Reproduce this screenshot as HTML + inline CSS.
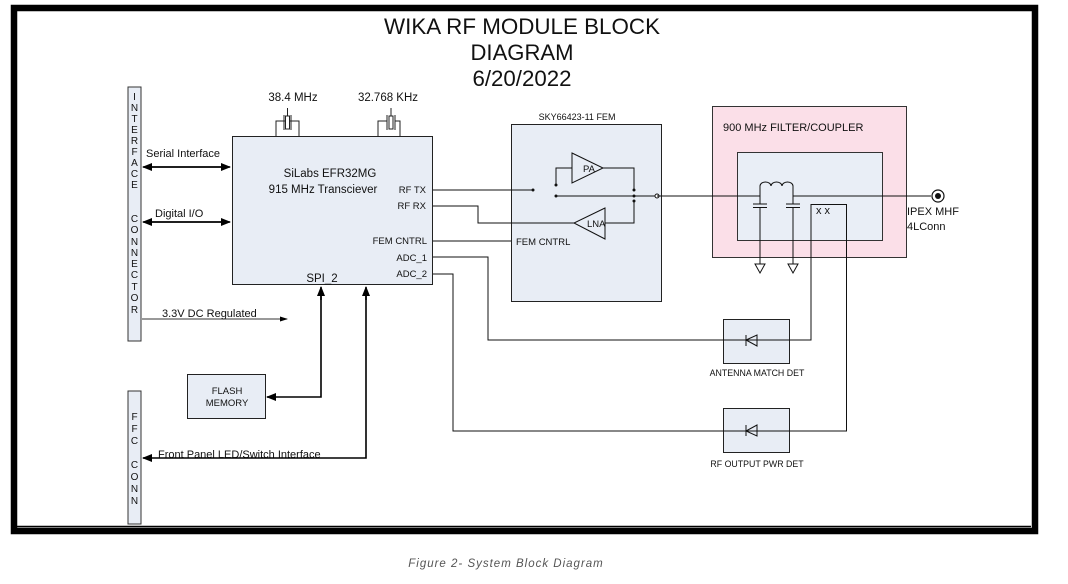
<!DOCTYPE html>
<html><head><meta charset="utf-8"><style>
html,body{margin:0;padding:0;background:#fff;}
svg{display:block;}
text{font-family:"Liberation Sans",sans-serif;fill:#111;}
</style></head><body>
<svg width="1068" height="584" viewBox="0 0 1068 584" xmlns="http://www.w3.org/2000/svg">
<defs>
<marker id="ah" markerWidth="10" markerHeight="10" refX="9" refY="5" orient="auto" markerUnits="userSpaceOnUse"><path d="M0,1 L10,5 L0,9 Z" fill="#000"/></marker>
<marker id="ahs" markerWidth="8" markerHeight="8" refX="7" refY="4" orient="auto" markerUnits="userSpaceOnUse"><path d="M0,1.5 L8,4 L0,6.5 Z" fill="#000"/></marker>
</defs>
<!-- frame -->
<rect x="14" y="8" width="1021" height="523" fill="none" stroke="#000" stroke-width="6.5"/>
<line x1="16" y1="526.5" x2="1031" y2="526.5" stroke="#000" stroke-width="1.5"/>

<!-- title -->
<g font-size="22" text-anchor="middle">
<text x="522" y="34" textLength="276" lengthAdjust="spacingAndGlyphs">WIKA RF MODULE BLOCK</text>
<text x="522" y="60" textLength="103" lengthAdjust="spacingAndGlyphs">DIAGRAM</text>
<text x="522" y="86" textLength="99" lengthAdjust="spacingAndGlyphs">6/20/2022</text>
</g>

<!-- interface connector -->
<rect x="128" y="87" width="13" height="254" fill="#e8edf5" stroke="#333" stroke-width="1"/>
<g font-size="10" text-anchor="middle">
<text x="134.5" y="100">I</text><text x="134.5" y="111">N</text><text x="134.5" y="122">T</text><text x="134.5" y="133">E</text><text x="134.5" y="144">R</text><text x="134.5" y="155">F</text><text x="134.5" y="166">A</text><text x="134.5" y="177">C</text><text x="134.5" y="188">E</text>
<text x="134.5" y="222">C</text><text x="134.5" y="233">O</text><text x="134.5" y="245">N</text><text x="134.5" y="256">N</text><text x="134.5" y="267">E</text><text x="134.5" y="278">C</text><text x="134.5" y="290">T</text><text x="134.5" y="301">O</text><text x="134.5" y="313">R</text>
</g>
<!-- FFC conn -->
<rect x="128" y="391" width="13" height="133" fill="#e8edf5" stroke="#333" stroke-width="1"/>
<g font-size="10" text-anchor="middle">
<text x="134.5" y="420">F</text><text x="134.5" y="432">F</text><text x="134.5" y="444">C</text>
<text x="134.5" y="468">C</text><text x="134.5" y="480">O</text><text x="134.5" y="492">N</text><text x="134.5" y="504">N</text>
</g>

<!-- chip -->
<rect x="232.5" y="136.5" width="200" height="148" fill="#e8edf5" stroke="#222" stroke-width="1"/>
<g font-size="11.5" text-anchor="middle">
<text x="330" y="177">SiLabs EFR32MG</text>
<text x="323" y="193">915 MHz Transciever</text>
</g>
<g font-size="9.5" text-anchor="end">
<text x="426" y="193">RF TX</text>
<text x="426" y="209">RF RX</text>
<text x="427" y="244">FEM CNTRL</text>
<text x="427" y="261">ADC_1</text>
<text x="427" y="277">ADC_2</text>
</g>
<text x="322" y="282" font-size="11.5" text-anchor="middle">SPI_2</text>

<!-- crystals -->
<g stroke="#222" stroke-width="1" fill="none">
<path d="M276,136 V121 H285 M299,136 V121 H290"/>
<rect x="285.5" y="116" width="4" height="13"/>
<line x1="284" y1="115" x2="284" y2="130"/><line x1="291" y1="115" x2="291" y2="130"/>
<line x1="287.5" y1="108" x2="287.5" y2="116"/>
<path d="M378,136 V121 H387 M400,136 V121 H395"/>
<rect x="389" y="116" width="4" height="13"/>
<line x1="387" y1="115" x2="387" y2="130"/><line x1="395" y1="115" x2="395" y2="130"/>
<line x1="391" y1="108" x2="391" y2="116"/>
</g>
<g font-size="11.5" text-anchor="middle">
<text x="293" y="101">38.4 MHz</text>
<text x="388" y="101">32.768 KHz</text>
</g>

<!-- left connections -->
<g stroke="#000" stroke-width="1.6" fill="none">
<line x1="150" y1="167" x2="230" y2="167" marker-end="url(#ah)"/>
<line x1="224" y1="167" x2="143" y2="167" marker-end="url(#ah)"/>
<line x1="150" y1="222" x2="230" y2="222" marker-end="url(#ah)"/>
<line x1="224" y1="222" x2="143" y2="222" marker-end="url(#ah)"/>
</g>
<line x1="142" y1="319" x2="287" y2="319" stroke="#333" stroke-width="1" marker-end="url(#ahs)"/>
<g font-size="11">
<text x="146" y="157">Serial Interface</text>
<text x="155" y="217">Digital I/O</text>
<text x="162" y="317">3.3V DC Regulated</text>
<text x="158" y="458">Front Panel LED/Switch Interface</text>
</g>

<!-- flash -->
<rect x="187.5" y="374.5" width="78" height="44" fill="#e8edf5" stroke="#222" stroke-width="1"/>
<g font-size="9.5" text-anchor="middle">
<text x="227" y="394">FLASH</text>
<text x="227" y="406">MEMORY</text>
</g>
<g stroke="#000" stroke-width="1.6" fill="none">
<path d="M321,296 V397 H276"/>
<line x1="321" y1="300" x2="321" y2="287" marker-end="url(#ah)"/>
<line x1="276" y1="397" x2="267" y2="397" marker-end="url(#ah)"/>
<path d="M366,296 V458 H152"/>
<line x1="366" y1="300" x2="366" y2="287" marker-end="url(#ah)"/>
<line x1="152" y1="458" x2="143" y2="458" marker-end="url(#ah)"/>
</g>

<!-- FEM -->
<rect x="511.5" y="124.5" width="150" height="177" fill="#e8edf5" stroke="#222" stroke-width="1"/>
<text x="577" y="120" font-size="9" text-anchor="middle">SKY66423-11 FEM</text>
<text x="516" y="245" font-size="9.5">FEM CNTRL</text>
<g stroke="#111" stroke-width="1" fill="none">
<line x1="433" y1="190" x2="533" y2="190"/>
<path d="M433,206 H478 V223 H634 V201"/>
<line x1="433" y1="241" x2="511" y2="241"/>
<path d="M556,185 V168 H572"/>
<path d="M603,168 H634 V190"/>
<line x1="556" y1="196" x2="634" y2="196"/>
<line x1="634" y1="196" x2="655" y2="196"/>
<line x1="659" y1="196" x2="931" y2="196"/>
<circle cx="657" cy="196" r="2" fill="#fff"/>
<path d="M572,153 L603,168 L572,183 Z" fill="#e8edf5"/>
<path d="M605,208 L574,223 L605,239 Z" fill="#e8edf5"/>
</g>
<g fill="#111">
<circle cx="533" cy="190" r="1.5"/><circle cx="556" cy="185" r="1.5"/><circle cx="556" cy="196" r="1.5"/>
<circle cx="634" cy="190" r="1.5"/><circle cx="634" cy="196" r="1.5"/><circle cx="634" cy="201" r="1.5"/>
</g>
<line x1="479" y1="223" x2="574" y2="223" stroke="#111" stroke-width="1"/>
<text x="583" y="172" font-size="9.5">PA</text>
<text x="587" y="227" font-size="9.5">LNA</text>

<!-- filter -->
<rect x="712.5" y="106.5" width="194" height="151" fill="#fbdfe8" stroke="#333" stroke-width="1"/>
<text x="723" y="131" font-size="11">900 MHz FILTER/COUPLER</text>
<rect x="737.5" y="152.5" width="145" height="88" fill="#e9eef6" stroke="#333" stroke-width="1"/>
<g stroke="#111" stroke-width="1" fill="none">
<line x1="657" y1="196" x2="760" y2="196"/>
<path d="M760,196 V186 A5.5,4 0 0 1 771,186 A5.5,4 0 0 1 782,186 A5.5,4 0 0 1 793,186 V196 H931"/>
<line x1="760" y1="196" x2="760" y2="204"/>
<line x1="753" y1="204" x2="767" y2="204"/><line x1="753" y1="207.5" x2="767" y2="207.5"/>
<line x1="760" y1="207.5" x2="760" y2="264"/>
<line x1="793" y1="196" x2="793" y2="204"/>
<line x1="786" y1="204" x2="800" y2="204"/><line x1="786" y1="207.5" x2="800" y2="207.5"/>
<line x1="793" y1="207.5" x2="793" y2="264"/>
<path d="M755,264 H765 L760,273 Z"/>
<path d="M788,264 H798 L793,273 Z"/>
<path d="M433,257 H488 V340 H811 V204.5 H846.5 V431 H453 V274 H433"/>
</g>
<text x="816" y="214" font-size="11">x x</text>
<circle cx="938" cy="196" r="6" fill="#fff" stroke="#111" stroke-width="1.2"/>
<circle cx="938" cy="196" r="3" fill="#111"/>
<g font-size="11">
<text x="907" y="215">IPEX MHF</text>
<text x="907" y="230">4LConn</text>
</g>

<!-- detectors -->
<rect x="723.5" y="319.5" width="66" height="44" fill="#e8edf5" stroke="#222" stroke-width="1"/>
<rect x="723.5" y="408.5" width="66" height="44" fill="#e8edf5" stroke="#222" stroke-width="1"/>
<g stroke="#111" stroke-width="1" fill="none">
<line x1="700" y1="340" x2="811" y2="340"/>
<line x1="700" y1="431" x2="846" y2="431"/>
<line x1="746" y1="335" x2="746" y2="346"/><path d="M746,340 L757,335 V346 Z"/>
<line x1="746" y1="425" x2="746" y2="436"/><path d="M746,431 L757,425 V436 Z"/>
</g>
<g font-size="8.8" text-anchor="middle">
<text x="757" y="376">ANTENNA MATCH DET</text>
<text x="757" y="467">RF OUTPUT PWR DET</text>
</g>

<text x="506" y="567" font-size="11.5" font-style="italic" text-anchor="middle" style="fill:#555;letter-spacing:1px">Figure 2- System Block Diagram</text>
</svg>
</body></html>
